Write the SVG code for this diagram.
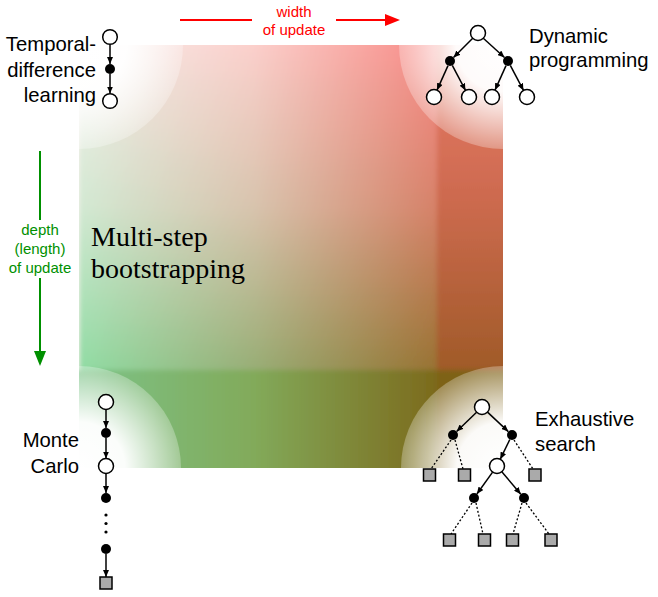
<svg xmlns="http://www.w3.org/2000/svg" width="658" height="597" viewBox="0 0 658 597">
  <defs>
    <style>
      .lbl { font-family: "Liberation Sans", Arial, sans-serif; font-size: 20.3px; fill: #000; }
      .red { font-family: "Liberation Sans", Arial, sans-serif; font-size: 15px; fill: #ff0000; text-anchor: middle; }
      .grn { font-family: "Liberation Sans", Arial, sans-serif; font-size: 15px; fill: #009000; text-anchor: middle; }
      .serif { font-family: "Liberation Serif", "Times New Roman", serif; font-size: 28px; fill: #000; }
      .open { fill: #fff; stroke: #000; stroke-width: 1.5; }
      .dot { fill: #000; }
      .term { fill: #aaaaaa; stroke: #000; stroke-width: 1.5; }
      .edge { stroke: #000; stroke-width: 1.5; fill: none; marker-end: url(#ah); }
      .dash { stroke: #000; stroke-width: 1.3; fill: none; stroke-dasharray: 2 2; }
    </style>
    <marker id="ah" markerUnits="userSpaceOnUse" markerWidth="8" markerHeight="6" refX="7" refY="3" orient="auto">
      <path d="M0,0 L7,3 L0,6 z" fill="#000"/>
    </marker>
    <linearGradient id="topRow" x1="0" y1="0" x2="1" y2="0">
      <stop offset="0" stop-color="#f6f2ee"/>
      <stop offset="0.5" stop-color="#fbd0cc"/>
      <stop offset="1" stop-color="#f88a86"/>
    </linearGradient>
    <linearGradient id="botRow" x1="0" y1="0" x2="1" y2="0">
      <stop offset="0" stop-color="#90dca4"/>
      <stop offset="0.5" stop-color="#98ac74"/>
      <stop offset="1" stop-color="#987232"/>
    </linearGradient>
    <linearGradient id="vmask" x1="0" y1="0" x2="0" y2="1">
      <stop offset="0" stop-color="#000"/>
      <stop offset="0.5" stop-color="#5a5a5a"/>
      <stop offset="1" stop-color="#fff"/>
    </linearGradient>
    <mask id="m1" maskUnits="userSpaceOnUse" x="79" y="45" width="358" height="325">
      <rect x="79" y="45" width="358" height="325" fill="url(#vmask)"/>
    </mask>
    <linearGradient id="rightStrip" x1="0" y1="0" x2="0" y2="1">
      <stop offset="0" stop-color="#ea7a6a"/>
      <stop offset="0.5" stop-color="#cc6a4e"/>
      <stop offset="1" stop-color="#a05a28"/>
    </linearGradient>
    <linearGradient id="bottomStrip" x1="0" y1="0" x2="1" y2="0">
      <stop offset="0" stop-color="#7cc48a"/>
      <stop offset="0.5" stop-color="#82aa5a"/>
      <stop offset="1" stop-color="#7c6a1c"/>
    </linearGradient>
    <radialGradient id="fade" cx="0.5" cy="0.5" r="0.5">
      <stop offset="0" stop-color="#fff" stop-opacity="1"/>
      <stop offset="0.45" stop-color="#fff" stop-opacity="0.97"/>
      <stop offset="1" stop-color="#fff" stop-opacity="0.28"/>
    </radialGradient>
    <clipPath id="sq">
      <rect x="79" y="45" width="424" height="423"/>
    </clipPath>
    <filter id="soft" x="-5%" y="-5%" width="110%" height="110%">
      <feGaussianBlur stdDeviation="2.5"/>
    </filter>
  </defs>

  <rect width="658" height="597" fill="#fff"/>

  <g id="background" clip-path="url(#sq)">
    <g filter="url(#soft)">
      <rect x="70" y="36" width="367" height="334" fill="url(#topRow)"/>
      <rect x="79" y="45" width="358" height="325" fill="url(#botRow)" mask="url(#m1)"/>
      <rect x="437" y="36" width="76" height="334" fill="url(#rightStrip)"/>
      <rect x="70" y="370" width="367" height="108" fill="url(#bottomStrip)"/>
      <rect x="437" y="370" width="76" height="108" fill="#7e6218"/>
    </g>
    <circle cx="79" cy="45" r="104" fill="url(#fade)"/>
    <circle cx="503" cy="45" r="104" fill="url(#fade)"/>
    <circle cx="79" cy="468" r="102" fill="url(#fade)"/>
    <circle cx="503" cy="468" r="102" fill="url(#fade)"/>
  </g>

  <g id="width-arrow">
    <line x1="180" y1="20" x2="252" y2="20" stroke="#ff0000" stroke-width="2"/>
    <line x1="336" y1="20" x2="387" y2="20" stroke="#ff0000" stroke-width="2"/>
    <polygon points="400,20 385,14 385,26" fill="#ff0000"/>
    <text class="red" x="294" y="17">width</text>
    <text class="red" x="294" y="35">of update</text>
  </g>

  <g id="depth-arrow">
    <line x1="40" y1="151" x2="40" y2="220" stroke="#009000" stroke-width="2"/>
    <line x1="40" y1="278" x2="40" y2="353" stroke="#009000" stroke-width="2"/>
    <polygon points="40,366 34,351 46,351" fill="#009000"/>
    <text class="grn" x="40" y="235">depth</text>
    <text class="grn" x="40" y="254">(length)</text>
    <text class="grn" x="40" y="273">of update</text>
  </g>

  <g id="multi-step">
    <text class="serif" x="91" y="246">Multi-step</text>
    <text class="serif" x="91" y="278">bootstrapping</text>
  </g>

  <g id="connectors">
    <line class="edge" x1="110" y1="44.5" x2="110" y2="64"/>
    <line class="edge" x1="110" y1="74" x2="110" y2="93.5"/>
    <line class="edge" x1="472.7" y1="38.3" x2="453.5" y2="57.5"/>
    <line class="edge" x1="483.3" y1="38.3" x2="504.5" y2="57.5"/>
    <line class="edge" x1="448" y1="65.6" x2="437" y2="90.1"/>
    <line class="edge" x1="452.3" y1="65.4" x2="465.5" y2="90.4"/>
    <line class="edge" x1="506" y1="65.6" x2="495" y2="90.1"/>
    <line class="edge" x1="510.3" y1="65.4" x2="523.5" y2="90.4"/>
    <line class="edge" x1="106" y1="409.5" x2="106" y2="428"/>
    <line class="edge" x1="106" y1="438" x2="106" y2="458.5"/>
    <line class="edge" x1="106" y1="473.5" x2="106" y2="493"/>
    <line class="edge" x1="106" y1="554" x2="106" y2="577"/>
    <line class="edge" x1="476.6" y1="412.2" x2="456.6" y2="431.5"/>
    <line class="edge" x1="487.5" y1="412.1" x2="508.3" y2="431.6"/>
    <line class="edge" x1="509.8" y1="439.5" x2="500.3" y2="459.2"/>
    <line class="edge" x1="492.6" y1="472.1" x2="476.9" y2="494"/>
    <line class="edge" x1="501.8" y1="471.7" x2="520.8" y2="494.2"/>
    <line class="dash" x1="451" y1="440" x2="431" y2="469"/>
    <line class="dash" x1="455" y1="440" x2="463" y2="469"/>
    <line class="dash" x1="514" y1="440" x2="533" y2="469"/>
    <line class="dash" x1="472" y1="503" x2="451" y2="534"/>
    <line class="dash" x1="476" y1="503" x2="483" y2="534"/>
    <line class="dash" x1="522" y1="503" x2="513" y2="534"/>
    <line class="dash" x1="526" y1="503" x2="549" y2="534"/>
  </g>

  <g id="td">
    <circle class="open" cx="110" cy="37" r="7.3"/>
    <circle class="dot" cx="110" cy="69" r="5"/>
    <circle class="open" cx="110" cy="101" r="7.3"/>
    <text class="lbl" x="96" y="51" text-anchor="end">Temporal-</text>
    <text class="lbl" x="96" y="77" text-anchor="end">difference</text>
    <text class="lbl" x="96" y="102" text-anchor="end">learning</text>
  </g>

  <g id="dp">
    <circle class="open" cx="478" cy="33" r="7.5"/>
    <circle class="dot" cx="450" cy="61" r="5"/>
    <circle class="dot" cx="508" cy="61" r="5"/>
    <circle class="open" cx="434" cy="97" r="7.5"/>
    <circle class="open" cx="469" cy="97" r="7.5"/>
    <circle class="open" cx="492" cy="97" r="7.5"/>
    <circle class="open" cx="527" cy="97" r="7.5"/>
    <text class="lbl" x="529" y="43">Dynamic</text>
    <text class="lbl" x="529" y="67">programming</text>
  </g>

  <g id="mc">
    <circle class="open" cx="106" cy="402" r="7.5"/>
    <circle class="dot" cx="106" cy="433" r="5"/>
    <circle class="open" cx="106" cy="466" r="7.5"/>
    <circle class="dot" cx="106" cy="498" r="5"/>
    <circle class="dot" cx="106" cy="515" r="1.6"/>
    <circle class="dot" cx="106" cy="523.5" r="1.6"/>
    <circle class="dot" cx="106" cy="532" r="1.6"/>
    <circle class="dot" cx="106" cy="549" r="5"/>
    <rect class="term" x="100" y="577" width="12" height="12"/>
    <text class="lbl" x="79" y="447" text-anchor="end">Monte</text>
    <text class="lbl" x="79" y="473" text-anchor="end">Carlo</text>
  </g>

  <g id="es">
    <circle class="open" cx="482" cy="407" r="7.5"/>
    <circle class="dot" cx="453" cy="435" r="5"/>
    <circle class="dot" cx="512" cy="435" r="5"/>
    <circle class="open" cx="497" cy="466" r="7.5"/>
    <circle class="dot" cx="474" cy="498" r="5"/>
    <circle class="dot" cx="524" cy="498" r="5"/>
    <rect class="term" x="423.5" y="469" width="12" height="12"/>
    <rect class="term" x="458.5" y="469" width="12" height="12"/>
    <rect class="term" x="529" y="469" width="12" height="12"/>
    <rect class="term" x="443.5" y="534" width="12" height="12"/>
    <rect class="term" x="478.5" y="534" width="12" height="12"/>
    <rect class="term" x="506.5" y="534" width="12" height="12"/>
    <rect class="term" x="545" y="534" width="12" height="12"/>
    <text class="lbl" x="535" y="426">Exhaustive</text>
    <text class="lbl" x="535" y="451">search</text>
  </g>
</svg>
